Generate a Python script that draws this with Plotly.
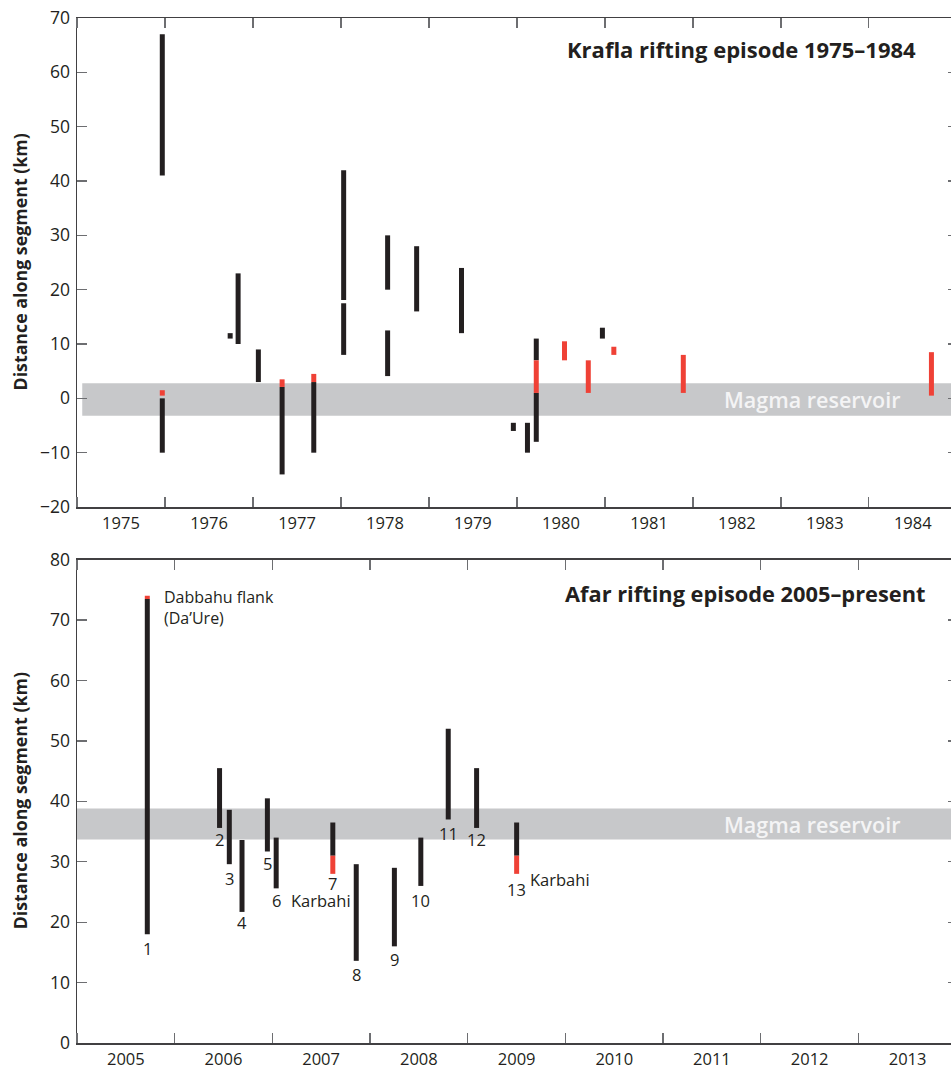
import numpy as np
import pandas as pd
import plotly.graph_objects as go

# ---------------- data ----------------
# Krafla rifting episode 1975-1984 (decimal year, km along segment)
krafla_dike_year = [1975.97, 1975.97, 1976.74, 1976.83, 1977.06, 1977.33, 1977.69, 1978.03, 1978.03,
                    1978.53, 1978.53, 1978.86, 1979.37, 1979.96, 1980.12, 1980.22, 1980.22, 1980.97]
krafla_dike_lo = [41, -10, 11, 10, 3, -14, -10, 18.1, 8, 20, 4.1, 16, 12, -6, -10, -8, 7, 11]
krafla_dike_hi = [67, 0, 12, 23, 9, 2.1, 3, 42, 17.5, 30, 12.5, 28, 24, -4.5, -4.5, 1, 11, 13]

krafla_erupt_year = [1975.97, 1977.33, 1977.69, 1980.22, 1980.54, 1980.81, 1981.10, 1981.89, 1984.71]
krafla_erupt_lo = [0.5, 2.1, 3, 1, 7, 1, 8, 1, 0.5]
krafla_erupt_hi = [1.5, 3.5, 4.5, 7, 10.5, 7, 9.5, 8, 8.5]

krafla_magma = [-3.2, 2.8]

# Afar rifting episode 2005-present
afar_dike_year = [2005.72, 2006.46, 2006.56, 2006.69, 2006.95, 2007.04, 2007.62, 2007.86,
                  2008.25, 2008.52, 2008.80, 2009.09, 2009.50]
afar_dike_lo = [18, 35.6, 29.6, 21.7, 31.7, 25.6, 31, 13.6, 16, 26, 37, 35.6, 31]
afar_dike_hi = [73.5, 45.5, 38.6, 33.6, 40.5, 34, 36.5, 29.6, 29, 34, 52, 45.5, 36.5]
afar_labels = [str(i) for i in range(1, 14)]

afar_erupt_year = [2005.72, 2007.62, 2009.50]
afar_erupt_lo = [73.5, 28, 28]
afar_erupt_hi = [74.05, 31, 31]

afar_magma = [33.7, 38.8]

krafla_yticks = list(range(-20, 71, 10))
afar_yticks = list(range(0, 81, 10))

# label placement (pixels below the bottom of each bar) - layout only
label_offsets = [14, 12, 14, 10.5, 12, 12.5, 10, 14, 13.5, 15, 14, 12, 16]

# ---------------- helpers ----------------
BLACK = "#231f20"
RED = "#ef4136"
GREY = "#c7c8ca"
FONT = "Open Sans"


def yr2date(y):
    yi = int(np.floor(y))
    frac = y - yi
    start = pd.Timestamp(year=yi, month=1, day=1)
    end = pd.Timestamp(year=yi + 1, month=1, day=1)
    return (start + (end - start) * frac).strftime("%Y-%m-%d %H:%M:%S")


def segments(years, lo, hi):
    xs, ys = [], []
    for yr, a, b in zip(years, lo, hi):
        d = yr2date(yr)
        xs += [d, d, None]
        ys += [a, b, None]
    return xs, ys


fig = go.Figure()

# top panel
for yrs, lo, hi, col in [(krafla_dike_year, krafla_dike_lo, krafla_dike_hi, BLACK),
                         (krafla_erupt_year, krafla_erupt_lo, krafla_erupt_hi, RED)]:
    xs, ys = segments(yrs, lo, hi)
    fig.add_trace(go.Scatter(x=xs, y=ys, mode="lines", line=dict(color=col, width=5),
                             xaxis="x", yaxis="y", showlegend=False, hoverinfo="skip"))

# bottom panel
for yrs, lo, hi, col in [(afar_dike_year, afar_dike_lo, afar_dike_hi, BLACK),
                         (afar_erupt_year, afar_erupt_lo, afar_erupt_hi, RED)]:
    xs, ys = segments(yrs, lo, hi)
    fig.add_trace(go.Scatter(x=xs, y=ys, mode="lines", line=dict(color=col, width=5),
                             xaxis="x2", yaxis="y3", showlegend=False, hoverinfo="skip"))

# empty traces to activate right-hand tick axes
fig.add_trace(go.Scatter(x=[], y=[], xaxis="x", yaxis="y2", showlegend=False))
fig.add_trace(go.Scatter(x=[], y=[], xaxis="x2", yaxis="y4", showlegend=False))

# magma reservoir bands
fig.add_shape(type="rect", xref="x domain", yref="y", x0=0.006, x1=1,
              y0=krafla_magma[0], y1=krafla_magma[1], fillcolor=GREY, line_width=0, layer="below")
fig.add_shape(type="rect", xref="x2 domain", yref="y3", x0=0, x1=1,
              y0=afar_magma[0], y1=afar_magma[1], fillcolor=GREY, line_width=0, layer="below")

# ---------------- axes ----------------
tickfont = dict(family=FONT, size=16.5, color=BLACK)
common_x = dict(type="date", dtick="M12", tickformat="%Y", ticklabelmode="period",
                ticks="inside", ticklen=10, tickwidth=1.3, tickcolor="#6d6e71",
                showline=True, linecolor="#414042", linewidth=1.5, mirror="ticks",
                showgrid=False, zeroline=False, tickfont=tickfont, ticklabelstandoff=1)
common_y = dict(ticks="inside", ticklen=10, tickwidth=1.3, tickcolor="#6d6e71",
                showline=True, linecolor="#414042", linewidth=1.5, mirror=False,
                showgrid=False, zeroline=False,
                tickfont=dict(family=FONT, size=17.5, color=BLACK), ticklabelstandoff=2)
right_y = dict(side="right", ticks="inside", ticklen=3, tickwidth=1.3, tickcolor="#6d6e71",
               showline=False, showgrid=False, zeroline=False, showticklabels=False)

top_dom = [0.5229, 1.0]
bot_dom = [0.0, 0.4715]

fig.update_layout(
    width=951, height=1074,
    margin=dict(l=77, r=0, t=18, b=31),
    paper_bgcolor="white", plot_bgcolor="white",
    showlegend=False, hovermode=False,
    xaxis=dict(domain=[0, 1], anchor="y",
               range=[yr2date(1975.0), yr2date(1984.932)], tick0="1975-01-01", **common_x),
    yaxis=dict(domain=top_dom, anchor="x", range=[-20, 70], tickvals=krafla_yticks, **common_y),
    yaxis2=dict(overlaying="y", anchor="x", range=[-20, 70], tickvals=krafla_yticks, **right_y),
    xaxis2=dict(domain=[0, 1], anchor="y3",
                range=[yr2date(2005.0), yr2date(2013.946)], tick0="2005-01-01", **common_x),
    yaxis3=dict(domain=bot_dom, anchor="x2", range=[0, 80], tickvals=afar_yticks, **common_y),
    yaxis4=dict(overlaying="y3", anchor="x2", range=[0, 80], tickvals=afar_yticks, **right_y),
)

# ---------------- text ----------------
ann = []
ytitle = "Distance along segment (km)"
for yref in ["y domain", "y3 domain"]:
    ann.append(dict(text=ytitle, xref="paper", x=(20 - 77) / 874, xanchor="center",
                    yref=yref, y=0.5, yanchor="middle", textangle=-90, showarrow=False,
                    font=dict(family=FONT, size=17.8, color=BLACK, weight="bold")))

ann.append(dict(text="Krafla rifting episode 1975–1984", xref="x domain", x=(918.3 - 77) / 874,
                xanchor="right", yref="y domain", y=(507 - 49) / 489, yanchor="middle",
                showarrow=False, font=dict(family=FONT, size=22, color=BLACK, weight="bold")))
ann.append(dict(text="Afar rifting episode 2005–present", xref="x2 domain", x=(927.3 - 77) / 874,
                xanchor="right", yref="y3 domain", y=(1043.3 - 593.3) / 483.6, yanchor="middle",
                showarrow=False, font=dict(family=FONT, size=21.8, color=BLACK, weight="bold")))

for xref, yref, band in [("x domain", "y", krafla_magma), ("x2 domain", "y3", afar_magma)]:
    ann.append(dict(text="Magma reservoir", xref=xref, x=(901.7 - 77) / 874, xanchor="right",
                    yref=yref, y=sum(band) / 2, yanchor="middle", showarrow=False,
                    font=dict(family=FONT, size=21.5, color="#f4f4f5", weight=600)))

# event number labels under each Afar dike
for yr, lo, lab, off in zip(afar_dike_year, afar_dike_lo, afar_labels, label_offsets):
    bottom = min([lo] + [el for ey, el in zip(afar_erupt_year, afar_erupt_lo) if ey == yr])
    ann.append(dict(text=lab, xref="x2", x=yr2date(yr), xanchor="center",
                    yref="y3", y=bottom, yanchor="middle", yshift=-off, showarrow=False,
                    font=dict(family=FONT, size=16.5, color=BLACK)))

# named eruption sites
ann.append(dict(text="Karbahi", xref="x2", x=yr2date(afar_dike_year[5]), xanchor="left", xshift=12.6,
                yref="y3", y=afar_dike_lo[5], yanchor="middle", yshift=-12.5, showarrow=False,
                font=dict(family=FONT, size=16.5, color=BLACK)))
ann.append(dict(text="Karbahi", xref="x2", x=yr2date(afar_erupt_year[2]), xanchor="left", xshift=11.6,
                yref="y3", y=afar_erupt_lo[2], yanchor="middle", yshift=-6, showarrow=False,
                font=dict(family=FONT, size=16.5, color=BLACK)))
ann.append(dict(text="Dabbahu flank<br>(Da’Ure)", xref="x2", x=yr2date(afar_erupt_year[0]),
                xanchor="left", align="left", xshift=15,
                yref="y3", y=afar_erupt_hi[0], yanchor="top", yshift=12, showarrow=False,
                font=dict(family=FONT, size=16, color=BLACK)))

fig.update_layout(annotations=ann)

fig.write_html("out.html", config={"displayModeBar": False, "staticPlot": True},
               post_script="document.body.style.margin='0';document.body.style.padding='0';")
